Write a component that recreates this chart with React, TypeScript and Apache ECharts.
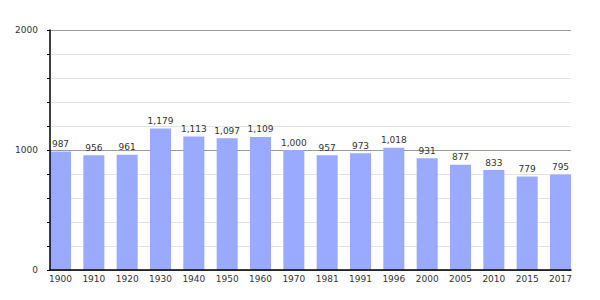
import React, { useEffect, useRef } from "react";
import * as echarts from "echarts";

const years = ["1900", "1910", "1920", "1930", "1940", "1950", "1960", "1970", "1981", "1991", "1996", "2000", "2005", "2010", "2015", "2017"];
const population = [987, 956, 961, 1179, 1113, 1097, 1109, 1000, 957, 973, 1018, 931, 877, 833, 779, 795];
const yLabels = [0, 1000, 2000];

export default function App() {
  const ref = useRef<HTMLDivElement>(null);
  useEffect(() => {
    if (!ref.current) return;
    const chart = echarts.init(ref.current, undefined, { renderer: "svg" });
    const font = "DejaVu Sans, Verdana, sans-serif";
    chart.setOption({
      animation: false,
      backgroundColor: "#ffffff",
      grid: [
        { left: 50, right: 29, top: 30, bottom: 30 },
        { left: 43.83, right: 22.83, top: 30, bottom: 30 },
      ],
      xAxis: [
        {
          gridIndex: 0,
          type: "category",
          data: years,
          axisLine: { show: true, lineStyle: { color: "#000", width: 1.5 } },
          axisTick: { show: false },
          axisLabel: { show: false },
          splitLine: { show: false },
          z: 5,
        },
        {
          gridIndex: 1,
          type: "category",
          data: years,
          axisLine: { show: false },
          axisTick: { show: false },
          axisLabel: { color: "#333", fontSize: 9, fontFamily: font, margin: 4 },
        },
      ],
      yAxis: [
        {
          gridIndex: 0,
          type: "value",
          min: 0,
          max: 2000,
          interval: 200,
          axisLine: { show: false },
          axisTick: { show: false },
          axisLabel: {
            color: "#333",
            fontSize: 9,
            fontFamily: font,
            margin: 12,
            formatter: (v: number) => (yLabels.includes(v) ? String(v) : ""),
          },
          splitLine: {
            show: true,
            lineStyle: { color: ["#999999", "#e3e3e3", "#e3e3e3", "#e3e3e3", "#e3e3e3"], width: 1 },
          },
          z: 0,
        },
        {
          gridIndex: 1,
          type: "value",
          min: 0,
          max: 2000,
          show: false,
          splitLine: { show: false },
        },
        {
          gridIndex: 0,
          type: "value",
          position: "left",
          offset: 0,
          min: 0,
          max: 2000,
          interval: 200,
          axisLine: { show: true, lineStyle: { color: "#000", width: 1.5 } },
          axisTick: { show: true, length: 3, lineStyle: { color: "#000" } },
          axisLabel: { show: false },
          splitLine: { show: false },
          z: 5,
        },
      ],
      series: [
        {
          type: "bar",
          xAxisIndex: 1,
          yAxisIndex: 1,
          data: population,
          barWidth: 21,
          z: 2,
          itemStyle: { color: "#99aaff" },
          label: {
            show: true,
            position: "top",
            distance: 3,
            color: "#333",
            fontSize: 9,
            fontFamily: font,
            formatter: (p: any) => Number(p.value).toLocaleString("en-US"),
          },
        },
      ],
    });
    return () => chart.dispose();
  }, []);
  return <div ref={ref} style={{ width: 600, height: 300, margin: -8 }} />;
}
